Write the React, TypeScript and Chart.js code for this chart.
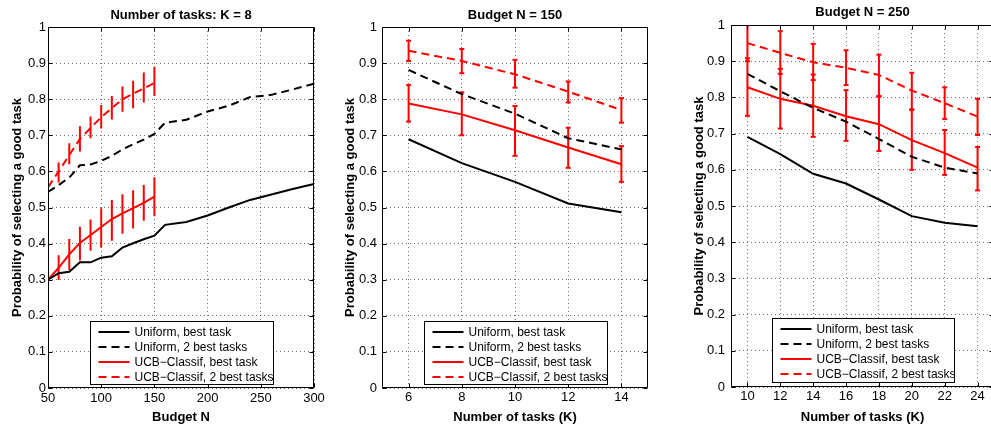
import { useEffect, useRef } from "react";
import { Chart, registerables } from "chart.js";

Chart.register(...registerables);

const FONT = "'Liberation Sans', Arial, Helvetica, sans-serif";

// ---------- shared ----------
const yTicks = [0, 0.1, 0.2, 0.3, 0.4, 0.5, 0.6, 0.7, 0.8, 0.9, 1];
const seriesLabels = [
  "Uniform, best task",
  "Uniform, 2 best tasks",
  "UCB\u2212Classif, best task",
  "UCB\u2212Classif, 2 best tasks",
];
const yTitle = "Probability of selecting a good task";

// ---------- panel 1: K = 8, x = budget ----------
const p1Title = "Number of tasks: K = 8";
const p1XTitle = "Budget N";
const p1XTicks = [50, 100, 150, 200, 250, 300];
const p1Budget = [50, 60, 70, 80, 90, 100, 110, 120, 130, 140, 150, 160, 180, 200, 220, 240, 260, 280, 300];
const p1UniformBest = [0.3, 0.318, 0.322, 0.348, 0.348, 0.361, 0.365, 0.389, 0.401, 0.412, 0.422, 0.452, 0.46, 0.478, 0.5, 0.521, 0.536, 0.551, 0.565];
const p1UniformTwo = [0.543, 0.562, 0.583, 0.617, 0.619, 0.629, 0.643, 0.661, 0.675, 0.688, 0.704, 0.735, 0.743, 0.766, 0.782, 0.806, 0.812, 0.827, 0.843];
const p1UcbBudget = [50, 60, 70, 80, 90, 100, 110, 120, 130, 140, 150];
const p1UcbBest = [0.3, 0.333, 0.37, 0.402, 0.424, 0.446, 0.468, 0.484, 0.498, 0.513, 0.53];
const p1UcbBestLow = [0.28, 0.299, 0.327, 0.353, 0.38, 0.389, 0.408, 0.427, 0.442, 0.463, 0.476];
const p1UcbBestHigh = [0.32, 0.368, 0.413, 0.447, 0.467, 0.498, 0.521, 0.537, 0.548, 0.562, 0.584];
const p1UcbTwo = [0.556, 0.6, 0.645, 0.69, 0.72, 0.75, 0.775, 0.8, 0.815, 0.83, 0.845];
const p1UcbTwoLow = [0.535, 0.569, 0.62, 0.655, 0.692, 0.719, 0.744, 0.765, 0.775, 0.791, 0.809];
const p1UcbTwoHigh = [0.575, 0.625, 0.678, 0.725, 0.752, 0.784, 0.809, 0.835, 0.851, 0.874, 0.89];

// ---------- panel 2: N = 150, x = K ----------
const p2Title = "Budget N = 150";
const p2XTitle = "Number of tasks (K)";
const p2XTicks = [6, 8, 10, 12, 14];
const p2K = [6, 8, 10, 12, 14];
const p2UniformBest = [0.689, 0.623, 0.571, 0.511, 0.487];
const p2UniformTwo = [0.881, 0.814, 0.76, 0.692, 0.661];
const p2UcbBest = [0.788, 0.758, 0.714, 0.666, 0.62];
const p2UcbBestLow = [0.738, 0.7, 0.643, 0.61, 0.571];
const p2UcbBestHigh = [0.839, 0.819, 0.781, 0.721, 0.67];
const p2UcbTwo = [0.934, 0.906, 0.869, 0.821, 0.77];
const p2UcbTwoLow = [0.906, 0.872, 0.832, 0.791, 0.735];
const p2UcbTwoHigh = [0.962, 0.939, 0.909, 0.849, 0.803];

// ---------- panel 3: N = 250, x = K ----------
const p3Title = "Budget N = 250";
const p3XTitle = "Number of tasks (K)";
const p3XTicks = [10, 12, 14, 16, 18, 20, 22, 24];
const p3K = [10, 12, 14, 16, 18, 20, 22, 24];
const p3UniformBest = [0.691, 0.643, 0.589, 0.562, 0.518, 0.472, 0.454, 0.444];
const p3UniformTwo = [0.865, 0.817, 0.771, 0.733, 0.685, 0.636, 0.606, 0.59];
const p3UcbBest = [0.828, 0.796, 0.777, 0.748, 0.726, 0.682, 0.646, 0.606];
const p3UcbBestLow = [0.749, 0.714, 0.691, 0.68, 0.652, 0.6, 0.586, 0.543];
const p3UcbBestHigh = [0.908, 0.879, 0.863, 0.82, 0.802, 0.765, 0.71, 0.663];
const p3UcbTwo = [0.95, 0.923, 0.897, 0.882, 0.862, 0.819, 0.784, 0.747];
const p3UcbTwoLow = [0.9, 0.865, 0.848, 0.834, 0.804, 0.767, 0.74, 0.696];
const p3UcbTwoHigh = [1.0, 0.983, 0.948, 0.93, 0.918, 0.868, 0.828, 0.796];

const RED = "#ff0000";
const BLACK = "#000000";
const DASH = [8, 5];

type PanelCfg = {
  left: number;
  width: number;
  xMin: number;
  xMax: number;
  xTicks: number[];
  title: string;
  xTitle: string;
  yAxisWidth: number;
  xAxisHeight: number;
  padRight: number;
  padTop: number;
  titleY: number;
  yTitlePad: number;
  xTitlePad: number;
  yTickPad: number;
  xTickPad: number;
  legendW: number;
  legendH: number;
  legendGap: number;
  datasets: any[];
};

function pts(xs: number[], ys: number[]) {
  return xs.map((x, i) => ({ x, y: ys[i] }));
}

function errPts(xs: number[], lo: number[], hi: number[]) {
  const out: any[] = [];
  xs.forEach((x, i) => {
    out.push({ x, y: lo[i] }, { x, y: hi[i] }, { x, y: null });
  });
  return out;
}

function mainSet(label: string, data: any[], color: string, dashed: boolean) {
  return {
    label,
    data,
    borderColor: color,
    backgroundColor: color,
    borderWidth: 2,
    borderDash: dashed ? DASH : [],
    pointRadius: 0,
    tension: 0,
    fill: false,
  };
}

function errSet(data: any[], caps: boolean) {
  return {
    label: "",
    errorBar: true,
    data,
    borderColor: RED,
    backgroundColor: RED,
    borderWidth: 2,
    pointStyle: "line",
    pointRadius: caps ? 2.5 : 0,
    pointBorderWidth: 2,
    pointBorderColor: RED,
    spanGaps: false,
    tension: 0,
    fill: false,
  };
}

const panels: PanelCfg[] = [
  {
    left: 0, width: 330, xMin: 50, xMax: 300, xTicks: p1XTicks,
    title: p1Title, xTitle: p1XTitle,
    yAxisWidth: 48, xAxisHeight: 37, padRight: 16, padTop: 27, titleY: 15,
    yTitlePad: 9.2, xTitlePad: 2.2,
    yTickPad: 2, xTickPad: 2.5,
    legendW: 183, legendH: 63, legendGap: 4,
    datasets: [
      mainSet(seriesLabels[0], pts(p1Budget, p1UniformBest), BLACK, false),
      mainSet(seriesLabels[1], pts(p1Budget, p1UniformTwo), BLACK, true),
      mainSet(seriesLabels[2], pts(p1UcbBudget, p1UcbBest), RED, false),
      mainSet(seriesLabels[3], pts(p1UcbBudget, p1UcbTwo), RED, true),
      errSet(errPts(p1UcbBudget, p1UcbBestLow, p1UcbBestHigh), false),
      errSet(errPts(p1UcbBudget, p1UcbTwoLow, p1UcbTwoHigh), false),
    ],
  },
  {
    left: 330, width: 330, xMin: 5, xMax: 15, xTicks: p2XTicks,
    title: p2Title, xTitle: p2XTitle,
    yAxisWidth: 52, xAxisHeight: 37, padRight: 12, padTop: 27, titleY: 15,
    yTitlePad: 12.2, xTitlePad: 4.2,
    yTickPad: 5, xTickPad: 1.5,
    legendW: 183, legendH: 63, legendGap: 4,
    datasets: [
      mainSet(seriesLabels[0], pts(p2K, p2UniformBest), BLACK, false),
      mainSet(seriesLabels[1], pts(p2K, p2UniformTwo), BLACK, true),
      mainSet(seriesLabels[2], pts(p2K, p2UcbBest), RED, false),
      mainSet(seriesLabels[3], pts(p2K, p2UcbTwo), RED, true),
      errSet(errPts(p2K, p2UcbBestLow, p2UcbBestHigh), true),
      errSet(errPts(p2K, p2UcbTwoLow, p2UcbTwoHigh), true),
    ],
  },
  {
    left: 660, width: 340, xMin: 9, xMax: 25, xTicks: p3XTicks,
    title: p3Title, xTitle: p3XTitle,
    yAxisWidth: 71, xAxisHeight: 38, padRight: 3.4, padTop: 25, titleY: 12.7,
    yTitlePad: 31.2, xTitlePad: 4.5,
    yTickPad: 6, xTickPad: 1.2,
    legendW: 182, legendH: 64, legendGap: 5,
    datasets: [
      mainSet(seriesLabels[0], pts(p3K, p3UniformBest), BLACK, false),
      mainSet(seriesLabels[1], pts(p3K, p3UniformTwo), BLACK, true),
      mainSet(seriesLabels[2], pts(p3K, p3UcbBest), RED, false),
      mainSet(seriesLabels[3], pts(p3K, p3UcbTwo), RED, true),
      errSet(errPts(p3K, p3UcbBestLow, p3UcbBestHigh), true),
      errSet(errPts(p3K, p3UcbTwoLow, p3UcbTwoHigh), true),
    ],
  },
];

function makeFramePlugin(cfg: PanelCfg) {
  return {
    id: "frameAndLegend",
    afterDraw(chart: any) {
      const { ctx, chartArea: ca, scales } = chart;
      ctx.save();
      ctx.setLineDash([]);

      // title centred over the plot area
      ctx.fillStyle = "#000";
      ctx.font = `bold 13px ${FONT}`;
      ctx.textAlign = "center";
      ctx.textBaseline = "middle";
      ctx.fillText(cfg.title, (ca.left + ca.right) / 2, cfg.titleY);

      // axes box
      ctx.strokeStyle = "#000";
      ctx.lineWidth = 1;
      const l = Math.round(ca.left) + 0.5;
      const r = Math.round(ca.right) - 0.5;
      const t = Math.round(ca.top) + 0.5;
      const b = Math.round(ca.bottom) - 0.5;
      ctx.beginPath();
      ctx.rect(l, t, r - l, b - t);
      ctx.stroke();
      // inward tick marks
      const tl = 4;
      ctx.beginPath();
      scales.x.ticks.forEach((tk: any) => {
        const px = Math.round(scales.x.getPixelForValue(tk.value)) + 0.5;
        ctx.moveTo(px, b);
        ctx.lineTo(px, b - tl);
        ctx.moveTo(px, t);
        ctx.lineTo(px, t + tl);
      });
      scales.y.ticks.forEach((tk: any) => {
        const py = Math.round(scales.y.getPixelForValue(tk.value)) + 0.5;
        ctx.moveTo(l, py);
        ctx.lineTo(l + tl, py);
        ctx.moveTo(r, py);
        ctx.lineTo(r - tl, py);
      });
      ctx.stroke();

      // legend box
      const cx = (ca.left + ca.right) / 2;
      const x0 = Math.round(cx - cfg.legendW / 2) + 0.5;
      const y0 = Math.round(ca.bottom - cfg.legendGap - cfg.legendH) + 0.5;
      ctx.fillStyle = "#fff";
      ctx.fillRect(x0, y0, cfg.legendW, cfg.legendH);
      ctx.strokeStyle = "#000";
      ctx.lineWidth = 1;
      ctx.strokeRect(x0, y0, cfg.legendW, cfg.legendH);
      const main = chart.data.datasets.filter((d: any) => !d.errorBar);
      main.forEach((ds: any, i: number) => {
        const y = Math.round(y0 + 10 + i * 15);
        ctx.strokeStyle = ds.borderColor;
        ctx.lineWidth = ds.borderWidth;
        ctx.setLineDash(ds.borderDash || []);
        ctx.beginPath();
        ctx.moveTo(x0 + 8, y);
        ctx.lineTo(x0 + 39, y);
        ctx.stroke();
        ctx.setLineDash([]);
        ctx.fillStyle = "#000";
        ctx.font = `12px ${FONT}`;
        ctx.textBaseline = "middle";
        ctx.textAlign = "left";
        ctx.fillText(ds.label, x0 + 44, y + 0.5);
      });
      ctx.restore();
    },
  };
}

function Panel({ cfg }: { cfg: PanelCfg }) {
  const ref = useRef<HTMLCanvasElement | null>(null);
  useEffect(() => {
    if (!ref.current) return;
    const tickFont = { family: FONT, size: 13 };
    const boldFont = { family: FONT, size: 13, weight: "bold" as const };
    const gridCfg = { color: "rgba(0,0,0,0.55)", lineWidth: 1, drawTicks: false };
    const chart = new Chart(ref.current, {
      type: "line",
      data: { datasets: cfg.datasets },
      options: {
        animation: false,
        responsive: false,
        devicePixelRatio: 1,
        layout: { padding: { left: 0, right: cfg.padRight, top: cfg.padTop, bottom: 0 } },
        plugins: {
          legend: { display: false },
          tooltip: { enabled: false },
          title: { display: false },
        },
        scales: {
          x: {
            type: "linear",
            min: cfg.xMin,
            max: cfg.xMax,
            afterBuildTicks: (a: any) => {
              a.ticks = cfg.xTicks.map((v) => ({ value: v }));
            },
            afterFit: (a: any) => {
              a.height = cfg.xAxisHeight;
            },
            grid: gridCfg,
            border: { display: false, dash: [1, 3] },
            ticks: {
              color: "#000",
              font: tickFont,
              padding: cfg.xTickPad,
              maxRotation: 0,
              autoSkip: false,
              callback: (v: any) => String(v),
            },
            title: {
              display: true,
              text: cfg.xTitle,
              color: "#000",
              font: boldFont,
              padding: { top: cfg.xTitlePad, bottom: 0 },
            },
          },
          y: {
            type: "linear",
            min: 0,
            max: 1,
            afterBuildTicks: (a: any) => {
              a.ticks = yTicks.map((v) => ({ value: v }));
            },
            afterFit: (a: any) => {
              a.width = cfg.yAxisWidth;
            },
            grid: gridCfg,
            border: { display: false, dash: [1, 3] },
            ticks: {
              color: "#000",
              font: tickFont,
              padding: cfg.yTickPad,
              autoSkip: false,
              callback: (v: any) => String(v),
            },
            title: {
              display: true,
              text: yTitle,
              color: "#000",
              font: boldFont,
              padding: { top: cfg.yTitlePad, bottom: 0 },
            },
          },
        },
      } as any,
      plugins: [makeFramePlugin(cfg)],
    });
    return () => chart.destroy();
  }, [cfg]);
  return (
    <canvas
      ref={ref}
      width={cfg.width}
      height={425}
      style={{ position: "absolute", left: cfg.left, top: 0, width: cfg.width, height: 425 }}
    />
  );
}

export default function App() {
  return (
    <div
      style={{
        position: "fixed",
        left: 0,
        top: 0,
        width: 991,
        height: 425,
        overflow: "hidden",
        background: "#fff",
      }}
    >
      {panels.map((p, i) => (
        <Panel key={i} cfg={p} />
      ))}
    </div>
  );
}
